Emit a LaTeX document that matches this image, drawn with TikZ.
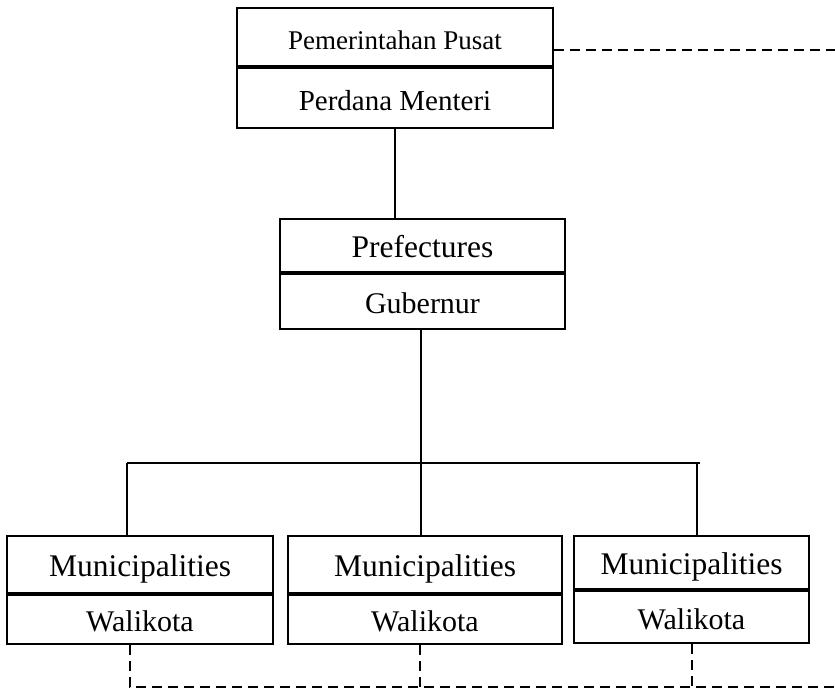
\documentclass[tikz,border=0pt]{standalone}
\usepackage{fontspec}
\setmainfont{Liberation Serif}
\usetikzlibrary{positioning}

\begin{document}
\begin{tikzpicture}[%
x=1pt,
y=-1pt,
node distance=0pt,
line width=2pt,
head/.style={draw, inner sep=0pt, text height=24pt, text depth=0pt, font=\fontsize{31.5}{33}\selectfont},
part/.style={head, font=\fontsize{30}{32}\selectfont},
link/.style={dash pattern=on 10pt off 6pt}
]

\useasboundingbox (0,0) rectangle (835,689);

\node[head, minimum width=316pt, minimum height=58pt, font=\fontsize{27}{30}\selectfont] (pusat) at (395,37) {Pemerintahan Pusat};
\node[part, minimum width=316pt, minimum height=60pt, font=\fontsize{29}{31}\selectfont] (pm) [below=of pusat] {Perdana Menteri};

\node[head, minimum width=285pt, minimum height=53pt] (pref) at (422.5,245.5) {Prefectures};
\node[part, minimum width=285pt, minimum height=55pt] (gub) [below=of pref] {Gubernur};

\node[head, minimum width=266pt, minimum height=57pt] (mun1) at (140,564.5) {Municipalities};
\node[part, minimum width=266pt, minimum height=49pt] (wali1) [below=of mun1] {Walikota};
\node[head, minimum width=274pt, minimum height=57pt] (mun2) at (425,564.5) {Municipalities};
\node[part, minimum width=274pt, minimum height=49pt] (wali2) [below=of mun2] {Walikota};
\node[head, minimum width=235pt, minimum height=53pt] (mun3) at (691.5,562.5) {Municipalities};
\node[part, minimum width=235pt, minimum height=52pt] (wali3) [below=of mun3] {Walikota};

\coordinate (busL) at (127,463);
\coordinate (busR) at (700,463);
\coordinate (farT) at (835,50);
\coordinate (farB) at (835,687);

% solid lines
\draw (pm.south) -- (pm.south |- pref.north);
\draw ([xshift=-2pt]gub.south) -- ([xshift=-2pt]gub.south |- mun2.north);
\draw (busL) -- (busR);
\draw (busL) -- (busL |- mun1.north);
\draw ([xshift=-3pt]busR) -- ([xshift=-3pt]busR |- mun3.north);

% dashed lines
\draw[link] (farT -| pusat.east) -- (farT);
\draw[link] ([xshift=-10pt]wali1.south) |- (farB);
\draw[link] ([xshift=-5pt]wali2.south) -- ([xshift=-5pt]wali2.south |- farB);
\draw[link] (wali3.south) -- (wali3.south |- farB);

\end{tikzpicture}
\end{document}
